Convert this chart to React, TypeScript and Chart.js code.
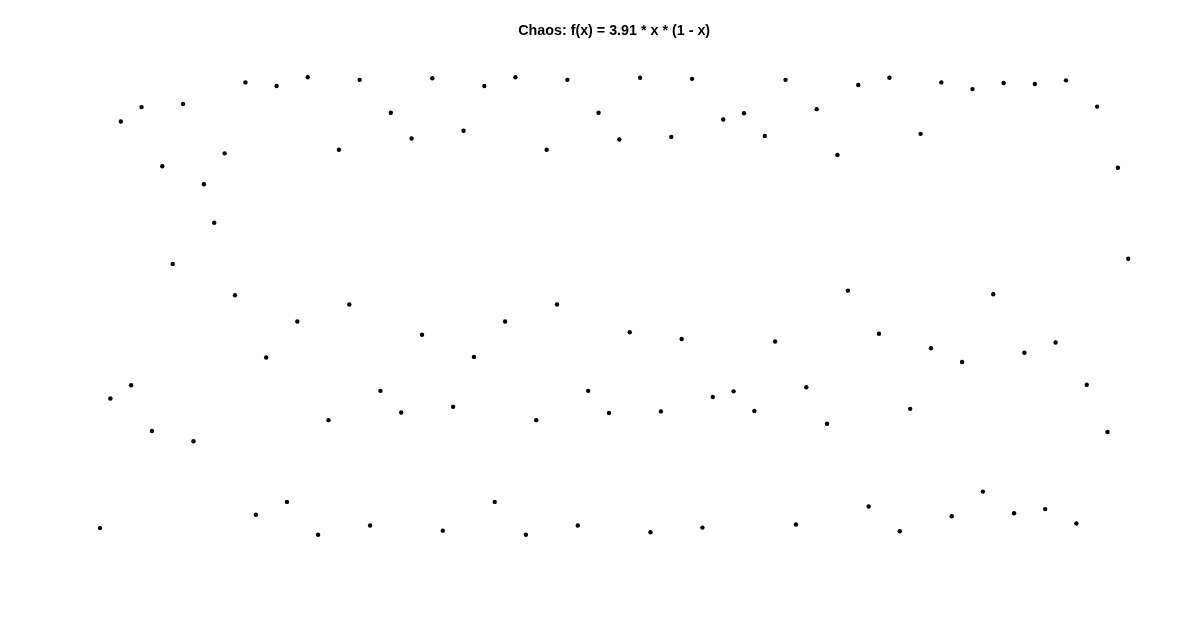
import React, { useEffect, useRef } from "react";
import { Chart, registerables } from "chart.js";

Chart.register(...registerables);

const TITLE = "Chaos: f(x) = 3.91 * x * (1 - x)";

// iteration numbers (category labels of the hidden x axis)
const iterations: number[] = Array.from({ length: 100 }, (_, i) => i + 1);

// values, in iteration order
const values: number[] = [
  0.100, 0.352, 0.891, 0.378, 0.919, 0.289, 0.804, 0.614, 0.925, 0.269,
  0.769, 0.694, 0.829, 0.553, 0.967, 0.126, 0.432, 0.960, 0.151, 0.502,
  0.977, 0.087, 0.310, 0.836, 0.535, 0.972, 0.105, 0.367, 0.908, 0.325,
  0.858, 0.476, 0.975, 0.095, 0.336, 0.873, 0.433, 0.960, 0.151, 0.502,
  0.977, 0.087, 0.310, 0.836, 0.535, 0.972, 0.105, 0.367, 0.908, 0.324,
  0.856, 0.481, 0.976, 0.092, 0.327, 0.861, 0.468, 0.974, 0.101, 0.355,
  0.895, 0.366, 0.907, 0.328, 0.863, 0.463, 0.972, 0.107, 0.374, 0.915,
  0.303, 0.826, 0.562, 0.962, 0.142, 0.478, 0.976, 0.094, 0.332, 0.867,
  0.450, 0.967, 0.123, 0.423, 0.954, 0.171, 0.555, 0.966, 0.129, 0.441,
  0.964, 0.137, 0.461, 0.971, 0.109, 0.379, 0.920, 0.287, 0.801, 0.624,
];

export default function App() {
  const canvasRef = useRef<HTMLCanvasElement | null>(null);

  useEffect(() => {
    if (!canvasRef.current) return;
    const chart = new Chart(canvasRef.current, {
      type: "line",
      data: {
        labels: iterations,
        datasets: [
          {
            label: "x",
            data: values,
            showLine: false,
            pointRadius: 2.2,
            pointHoverRadius: 2.2,
            pointBorderWidth: 0,
            pointBackgroundColor: "#000000",
            pointBorderColor: "#000000",
            backgroundColor: "#000000",
            borderColor: "#000000",
          },
        ],
      },
      options: {
        animation: false,
        responsive: false,
        maintainAspectRatio: false,
        layout: {
          autoPadding: false,
          padding: { left: 100, right: 71.7, top: 0, bottom: 47.5 },
        },
        plugins: {
          legend: { display: false },
          tooltip: { enabled: false },
          title: {
            display: true,
            text: TITLE,
            color: "#000000",
            font: { family: "'Liberation Sans', Arial, sans-serif", size: 14.3, weight: "bold" },
            padding: { top: 22.1, bottom: 26.2 },
          },
        },
        scales: {
          x: { type: "category", display: false, offset: false },
          y: { type: "linear", display: false, min: 0, max: 1 },
        },
      },
    });
    return () => chart.destroy();
  }, []);

  return (
    <div style={{ position: "fixed", left: 0, top: 0, width: 1200, height: 627, background: "#ffffff" }}>
      <canvas ref={canvasRef} width={1200} height={627} style={{ width: 1200, height: 627, display: "block" }} />
    </div>
  );
}
